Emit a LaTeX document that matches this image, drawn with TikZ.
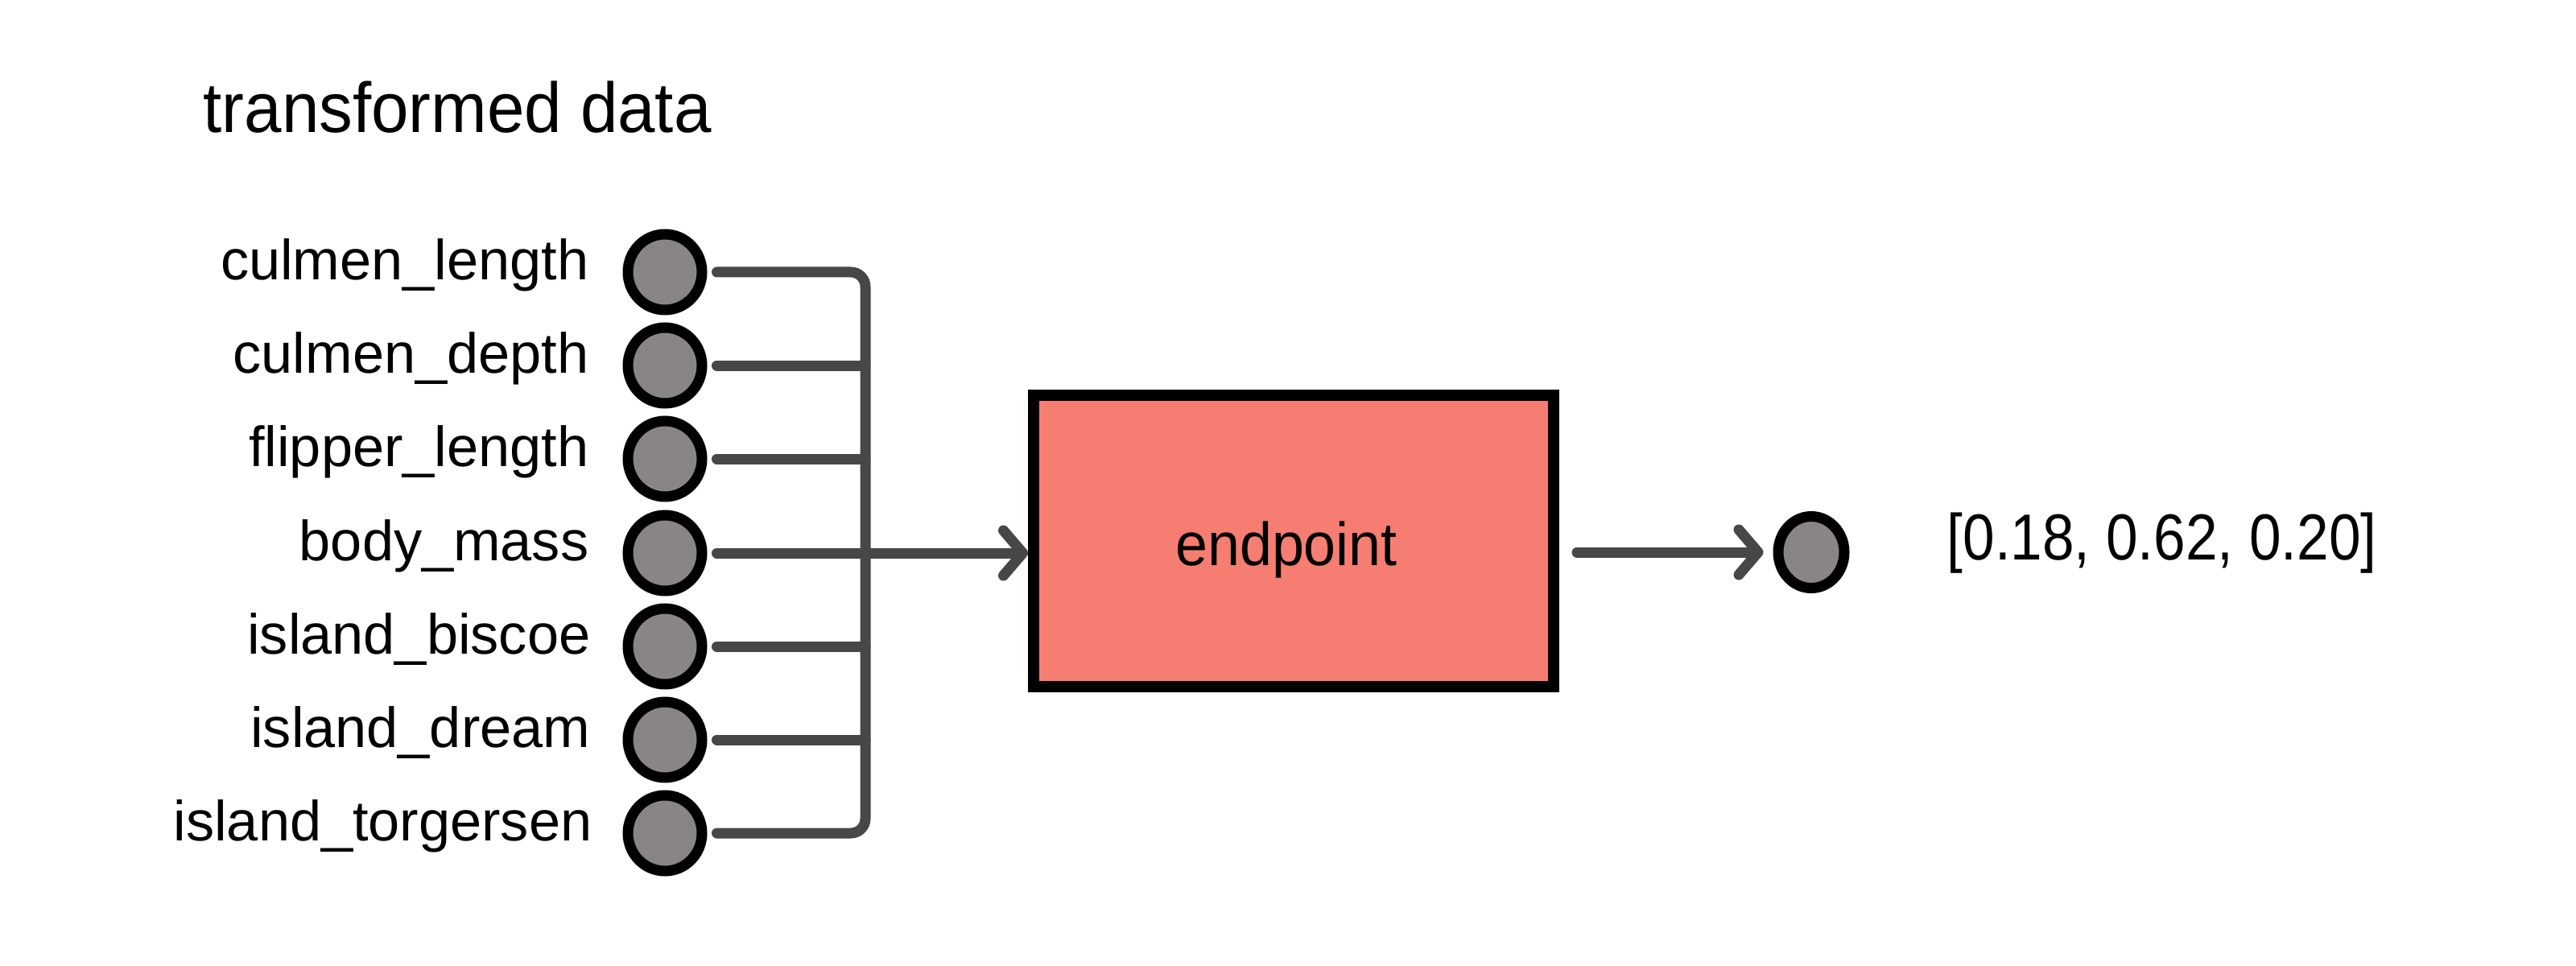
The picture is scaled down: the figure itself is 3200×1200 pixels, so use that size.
\documentclass[tikz,border=0pt]{standalone}
\usepackage{fontspec}
\setmainfont{Liberation Sans}
\newfontfamily\numfont[FakeStretch=0.88]{Liberation Sans}
\newfontfamily\headfont[FakeStretch=0.95]{Liberation Sans}
\usetikzlibrary{arrows.meta,shapes.geometric,calc}
\definecolor{wire}{HTML}{474747}
\definecolor{dotfill}{HTML}{898586}
\definecolor{boxfill}{HTML}{F67D71}
\begin{document}
\begin{tikzpicture}[x=0.1mm,y=-0.1mm,
  dot/.style={ellipse,draw=black,line width=1.3mm,fill=dotfill,minimum width=9.2mm,minimum height=9.4mm,inner sep=0pt},
  lbl/.style={anchor=mid east,inner sep=0pt,font=\fontsize{20}{24}\selectfont},
  wireline/.style={draw=wire,line width=1.3mm,line cap=round},
  tip/.style={-{Straight Barb[length=2.4mm,width=5.6mm,round]}},
  blockbox/.style={draw=black,line width=1.4mm,fill=boxfill,minimum width=6.46cm,minimum height=3.62cm,inner sep=0pt}
]
\useasboundingbox (0,0) rectangle (3200,1200);
\fill[white] (0,0) rectangle (3200,1200);

\node[anchor=base west,inner sep=0pt,font=\headfont\fontsize{25}{30}\selectfont] (title) at (252,165) {transformed data};

% input dots
\node[dot] (c1) at (826,338) {};
\node[dot] (c2) at (826,454) {};
\node[dot] (c3) at (826,570) {};
\node[dot] (c4) at (826,687) {};
\node[dot] (c5) at (826,803) {};
\node[dot] (c6) at (826,919) {};
\node[dot] (c7) at (826,1035) {};

% labels
\node[lbl] (l1) at (732,338) {culmen\_length};
\node[lbl] (l2) at (732,454) {culmen\_depth};
\node[lbl] (l3) at (732,570) {flipper\_length};
\node[lbl] (l4) at (732,687) {body\_mass};
\node[lbl] (l5) at (734,803) {island\_biscoe};
\node[lbl] (l6) at (734,919) {island\_dream};
\node[lbl] (l7) at (736,1035) {island\_torgersen};

% block
\node[blockbox] (box) at (1607,672) {};
\node[anchor=base,inner sep=0pt,font=\headfont\fontsize{21.5}{26}\selectfont] (eplabel) at (1598,702) {endpoint};

% bus
\coordinate (bt) at (1075,338);
\coordinate (bb) at (1075,1035);
\draw[wireline,rounded corners=1.8mm] ([xshift=1.2mm]c1.east) -- (bt) -- (bb) -- ([xshift=1.2mm]c7.east);
\draw[wireline] ([xshift=1.2mm]c2.east) -- (c2.east -| bt);
\draw[wireline] ([xshift=1.2mm]c3.east) -- (c3.east -| bt);
\draw[wireline] ([xshift=1.2mm]c5.east) -- (c5.east -| bt);
\draw[wireline] ([xshift=1.2mm]c6.east) -- (c6.east -| bt);
\draw[wireline,tip] ([xshift=1.2mm]c4.east) -- (c4.east -| box.west);

% output
\node[dot,minimum width=8.2mm,minimum height=8.9mm] (out) at (2250,686) {};
\draw[wireline,tip,shorten <=2.2mm,shorten >=1.2mm] (box.east |- out.west) -- (out.west);
\node[anchor=mid west,inner sep=0pt,font=\numfont\fontsize{23}{28}\selectfont] (res) at (2418,686) {[0.18, 0.62, 0.20]};
\end{tikzpicture}
\end{document}
